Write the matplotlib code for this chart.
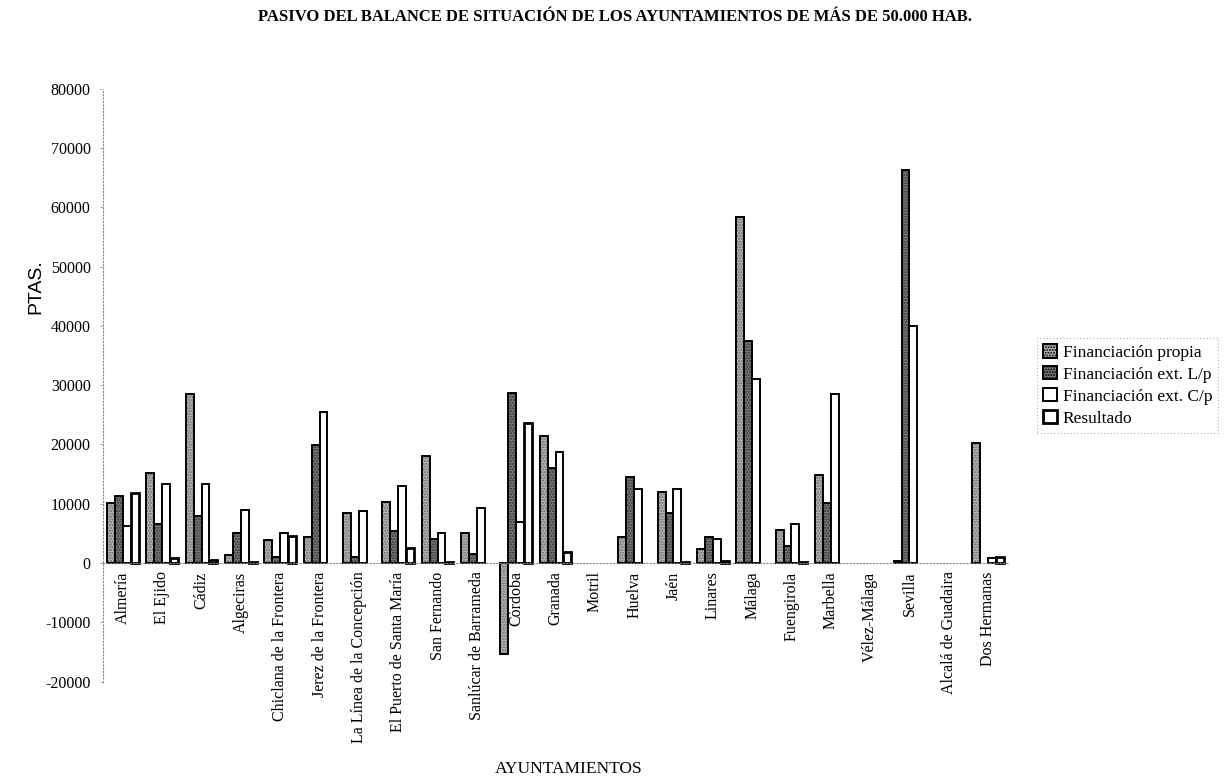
import numpy as np
import matplotlib
matplotlib.use("Agg")
from matplotlib import pyplot as plt
from matplotlib.patches import Patch

plt.rcParams["axes.unicode_minus"] = False
plt.rcParams["font.family"] = "Liberation Serif"

ayuntamientos = ["Almería", "El Ejido", "Cádiz", "Algeciras", "Chiclana de la Frontera",
                 "Jerez de la Frontera", "La Línea de la Concepción", "El Puerto de Santa María",
                 "San Fernando", "Sanlúcar de Barrameda", "Córdoba", "Granada", "Motril",
                 "Huelva", "Jaén", "Linares", "Málaga", "Fuengirola", "Marbella",
                 "Vélez-Málaga", "Sevilla", "Alcalá de Guadaira", "Dos Hermanas"]

fin_propia = [10100, 15200, 28500, 1400, 3900, 4400, 8500, 10300, 18000, 5100, -15300, 21500, 0,
              4400, 12000, 2400, 58300, 5600, 14800, 0, 300, 0, 20300]
fin_ext_lp = [11300, 6600, 7900, 5100, 1000, 19900, 1000, 5400, 4100, 1500, 28700, 16000, 0,
              14500, 8500, 4400, 37500, 2800, 10100, 0, 66300, 0, 0]
fin_ext_cp = [6300, 13300, 13300, 8900, 5100, 25500, 8700, 13000, 5100, 9300, 7000, 18800, 0,
              12500, 12500, 4100, 31000, 6600, 28600, 0, 40000, 0, 800]
resultado = [11800, 900, 500, 200, 4600, 0, 0, 2500, 150, 0, 23600, 1900, 0,
             0, 200, 300, 0, 150, 0, 0, 0, 0, 1000]

series = [("Financiación propia", fin_propia, "#b4b4b4", "#6a6a6a", "......", 1.4),
          ("Financiación ext. L/p", fin_ext_lp, "#7a7a7a", "#2e2e2e", "......", 1.4),
          ("Financiación ext. C/p", fin_ext_cp, "white", "white", None, 1.4),
          ("Resultado", resultado, "white", "white", None, 2.0)]

fig = plt.figure(figsize=(12.29, 7.79), dpi=100)
ax = fig.add_axes([0.084, 0.125, 0.736, 0.761])

# ejes punteados, eje de categorias en y=0
for s in ["top", "right"]:
    ax.spines[s].set_visible(False)
ax.spines["bottom"].set_position(("data", 0))
for s in ["bottom", "left"]:
    ax.spines[s].set_linestyle((0, (1, 2)))
    ax.spines[s].set_color("#888888")
    ax.spines[s].set_linewidth(0.8)

x = np.arange(len(ayuntamientos))
w = 0.2
handles = []
for i, (name, vals, fc, hc, hatch, lw) in enumerate(series):
    pos = x + (i - 1.5) * w
    lws = [lw if v != 0 else 0 for v in vals]
    plt.rcParams["hatch.color"] = hc
    ax.bar(pos, vals, w, color=fc, hatch=hatch, edgecolor=hc, linewidth=0)
    ax.bar(pos, vals, w, fill=False, edgecolor="black", linewidth=lws)
    handles.append(Patch(facecolor=fc, edgecolor="black", hatch=hatch, linewidth=lw, label=name))

ax.set_xlim(-0.5, len(ayuntamientos) - 0.5)
ax.set_ylim(-20000, 80000)
ax.set_yticks(np.arange(-20000, 80001, 10000))
ax.set_xticks(x)
ax.set_xticklabels(ayuntamientos, rotation=90, fontsize=11.5, va="top", ha="center")
ax.tick_params(axis="x", length=0, pad=6)
ax.tick_params(axis="y", length=2, width=0.6, color="#999999", labelsize=11.5, pad=7)

leg = ax.legend(handles=handles, loc="upper left", bbox_to_anchor=(0.837, 0.577),
                bbox_transform=fig.transFigure, fontsize=12.5, frameon=True, fancybox=False,
                handlelength=0.8, handleheight=0.8, handletextpad=0.3, labelspacing=0.3,
                borderpad=0.35)
leg.get_frame().set_edgecolor("#999999")
leg.get_frame().set_linestyle((0, (1, 2)))
leg.get_frame().set_linewidth(0.8)

fig.text(0.5, 0.978, "PASIVO DEL BALANCE DE SITUACIÓN DE LOS AYUNTAMIENTOS DE MÁS DE 50.000 HAB.",
         ha="center", va="center", fontsize=12, fontweight="bold")
fig.text(0.029, 1 - 287 / 779, "PTAS.", rotation=90, ha="center", va="center",
         fontsize=14, family="Liberation Sans")
fig.text(0.463, 1 - 769 / 779, "AYUNTAMIENTOS", ha="center", va="center", fontsize=12.5)

fig.savefig("out.png", dpi=100)
